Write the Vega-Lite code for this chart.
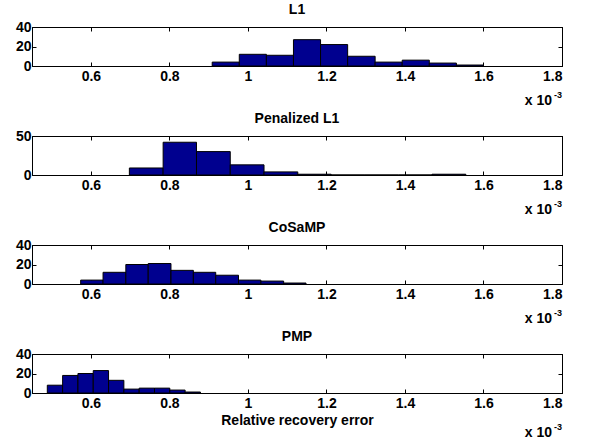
{
  "$schema": "https://vega.github.io/schema/vega-lite/v6.json",
  "background": "white",
  "padding": {"left": 14, "top": 2, "right": 5, "bottom": 2},
  "config": {
    "font": "Liberation Sans",
    "view": {"stroke": "black", "strokeWidth": 1},
    "axis": {
      "domainColor": "black", "domainWidth": 1, "tickColor": "black", "tickWidth": 1, "tickSize": -4,
      "labelFont": "Liberation Sans", "labelFontWeight": "bold", "labelFontSize": 14, "labelColor": "black",
      "labelPadding": 5, "grid": false,
      "titleFont": "Liberation Sans", "titleFontWeight": "bold", "titleFontSize": 14, "titleColor": "black"
    },
    "axisX": {"labelPadding": 7},
    "title": {"font": "Liberation Sans", "fontWeight": "bold", "fontSize": 14, "color": "black", "offset": 3}
  },
  "datasets": {
    "hist": [
      {"method": "L1", "x0": 0.909, "x1": 0.978, "count": 4},
      {"method": "L1", "x0": 0.978, "x1": 1.047, "count": 12},
      {"method": "L1", "x0": 1.047, "x1": 1.116, "count": 11},
      {"method": "L1", "x0": 1.116, "x1": 1.185, "count": 27},
      {"method": "L1", "x0": 1.185, "x1": 1.254, "count": 22},
      {"method": "L1", "x0": 1.254, "x1": 1.324, "count": 10},
      {"method": "L1", "x0": 1.324, "x1": 1.393, "count": 4},
      {"method": "L1", "x0": 1.393, "x1": 1.462, "count": 6},
      {"method": "L1", "x0": 1.462, "x1": 1.531, "count": 3},
      {"method": "L1", "x0": 1.531, "x1": 1.600, "count": 1},
      {"method": "Penalized L1", "x0": 0.698, "x1": 0.784, "count": 9},
      {"method": "Penalized L1", "x0": 0.784, "x1": 0.869, "count": 42},
      {"method": "Penalized L1", "x0": 0.869, "x1": 0.955, "count": 30},
      {"method": "Penalized L1", "x0": 0.955, "x1": 1.041, "count": 13},
      {"method": "Penalized L1", "x0": 1.041, "x1": 1.127, "count": 4},
      {"method": "Penalized L1", "x0": 1.127, "x1": 1.212, "count": 1},
      {"method": "Penalized L1", "x0": 1.212, "x1": 1.298, "count": 0},
      {"method": "Penalized L1", "x0": 1.298, "x1": 1.384, "count": 0},
      {"method": "Penalized L1", "x0": 1.384, "x1": 1.469, "count": 0},
      {"method": "Penalized L1", "x0": 1.469, "x1": 1.555, "count": 1},
      {"method": "CoSaMP", "x0": 0.574, "x1": 0.631, "count": 4},
      {"method": "CoSaMP", "x0": 0.631, "x1": 0.689, "count": 12},
      {"method": "CoSaMP", "x0": 0.689, "x1": 0.746, "count": 20},
      {"method": "CoSaMP", "x0": 0.746, "x1": 0.804, "count": 21},
      {"method": "CoSaMP", "x0": 0.804, "x1": 0.861, "count": 14},
      {"method": "CoSaMP", "x0": 0.861, "x1": 0.918, "count": 12},
      {"method": "CoSaMP", "x0": 0.918, "x1": 0.976, "count": 9},
      {"method": "CoSaMP", "x0": 0.976, "x1": 1.033, "count": 4},
      {"method": "CoSaMP", "x0": 1.033, "x1": 1.091, "count": 3},
      {"method": "CoSaMP", "x0": 1.091, "x1": 1.148, "count": 1},
      {"method": "PMP", "x0": 0.489, "x1": 0.528, "count": 8},
      {"method": "PMP", "x0": 0.528, "x1": 0.567, "count": 18},
      {"method": "PMP", "x0": 0.567, "x1": 0.606, "count": 20},
      {"method": "PMP", "x0": 0.606, "x1": 0.645, "count": 23},
      {"method": "PMP", "x0": 0.645, "x1": 0.684, "count": 13},
      {"method": "PMP", "x0": 0.684, "x1": 0.723, "count": 4},
      {"method": "PMP", "x0": 0.723, "x1": 0.762, "count": 5},
      {"method": "PMP", "x0": 0.762, "x1": 0.801, "count": 5},
      {"method": "PMP", "x0": 0.801, "x1": 0.840, "count": 3},
      {"method": "PMP", "x0": 0.840, "x1": 0.879, "count": 1}
    ],
    "note": [{"base": "x 10", "exp": "-3"}]
  },
  "bounds": "flush",
  "spacing": 70,
  "vconcat": [
    {
      "title": "L1", "width": 530, "height": 39,
      "layer": [
        {"data": {"name": "hist"}, "transform": [{"filter": "datum.method === 'L1'"}],
         "mark": {"type": "bar", "fill": "#00008F", "stroke": "black", "strokeWidth": 1},
         "encoding": {
           "x": {"field": "x0", "type": "quantitative", "scale": {"domain": [0.45, 1.8], "nice": false, "zero": false}, "axis": {"values": [0.6, 0.8, 1, 1.2, 1.4, 1.6, 1.8], "format": "~g", "title": null}},
           "x2": {"field": "x1"},
           "y": {"field": "count", "type": "quantitative", "scale": {"domain": [0, 40], "nice": false}, "axis": {"values": [0, 20, 40], "title": null}},
           "y2": {"datum": 0}
         }},
        {"data": {"name": "hist"}, "transform": [{"filter": "datum.method === 'L1'"}],
         "mark": {"type": "bar", "opacity": 0},
         "encoding": {
           "x": {"field": "x0", "type": "quantitative", "axis": {"orient": "top", "values": [0.6, 0.8, 1, 1.2, 1.4, 1.6, 1.8], "labels": false, "title": null}},
           "x2": {"field": "x1"},
           "y": {"field": "count", "type": "quantitative", "axis": {"orient": "right", "values": [0, 20, 40], "labels": false, "title": null}},
           "y2": {"datum": 0}
         }},
        {"data": {"name": "note"}, "mark": {"type": "text", "align": "right", "baseline": "alphabetic", "fontWeight": "bold", "fontSize": 14, "dx": -10, "dy": 39},
         "encoding": {"x": {"datum": 1.8, "type": "quantitative", "axis": null}, "y": {"datum": 0, "type": "quantitative", "axis": null}, "text": {"field": "base"}}},
        {"data": {"name": "note"}, "mark": {"type": "text", "align": "right", "baseline": "alphabetic", "fontWeight": "bold", "fontSize": 9, "dx": 0, "dy": 32},
         "encoding": {"x": {"datum": 1.8, "type": "quantitative", "axis": null}, "y": {"datum": 0, "type": "quantitative", "axis": null}, "text": {"field": "exp"}}}
      ],
      "resolve": {"axis": {"x": "independent", "y": "independent"}}
    },
    {
      "title": "Penalized L1", "width": 530, "height": 39,
      "layer": [
        {"data": {"name": "hist"}, "transform": [{"filter": "datum.method === 'Penalized L1'"}],
         "mark": {"type": "bar", "fill": "#00008F", "stroke": "black", "strokeWidth": 1},
         "encoding": {
           "x": {"field": "x0", "type": "quantitative", "scale": {"domain": [0.45, 1.8], "nice": false, "zero": false}, "axis": {"values": [0.6, 0.8, 1, 1.2, 1.4, 1.6, 1.8], "format": "~g", "title": null}},
           "x2": {"field": "x1"},
           "y": {"field": "count", "type": "quantitative", "scale": {"domain": [0, 50], "nice": false}, "axis": {"values": [0, 50], "title": null}},
           "y2": {"datum": 0}
         }},
        {"data": {"name": "hist"}, "transform": [{"filter": "datum.method === 'Penalized L1'"}],
         "mark": {"type": "bar", "opacity": 0},
         "encoding": {
           "x": {"field": "x0", "type": "quantitative", "axis": {"orient": "top", "values": [0.6, 0.8, 1, 1.2, 1.4, 1.6, 1.8], "labels": false, "title": null}},
           "x2": {"field": "x1"},
           "y": {"field": "count", "type": "quantitative", "axis": {"orient": "right", "values": [0, 50], "labels": false, "title": null}},
           "y2": {"datum": 0}
         }},
        {"data": {"name": "note"}, "mark": {"type": "text", "align": "right", "baseline": "alphabetic", "fontWeight": "bold", "fontSize": 14, "dx": -10, "dy": 39},
         "encoding": {"x": {"datum": 1.8, "type": "quantitative", "axis": null}, "y": {"datum": 0, "type": "quantitative", "axis": null}, "text": {"field": "base"}}},
        {"data": {"name": "note"}, "mark": {"type": "text", "align": "right", "baseline": "alphabetic", "fontWeight": "bold", "fontSize": 9, "dx": 0, "dy": 32},
         "encoding": {"x": {"datum": 1.8, "type": "quantitative", "axis": null}, "y": {"datum": 0, "type": "quantitative", "axis": null}, "text": {"field": "exp"}}}
      ],
      "resolve": {"axis": {"x": "independent", "y": "independent"}}
    },
    {
      "title": "CoSaMP", "width": 530, "height": 39,
      "layer": [
        {"data": {"name": "hist"}, "transform": [{"filter": "datum.method === 'CoSaMP'"}],
         "mark": {"type": "bar", "fill": "#00008F", "stroke": "black", "strokeWidth": 1},
         "encoding": {
           "x": {"field": "x0", "type": "quantitative", "scale": {"domain": [0.45, 1.8], "nice": false, "zero": false}, "axis": {"values": [0.6, 0.8, 1, 1.2, 1.4, 1.6, 1.8], "format": "~g", "title": null}},
           "x2": {"field": "x1"},
           "y": {"field": "count", "type": "quantitative", "scale": {"domain": [0, 40], "nice": false}, "axis": {"values": [0, 20, 40], "title": null}},
           "y2": {"datum": 0}
         }},
        {"data": {"name": "hist"}, "transform": [{"filter": "datum.method === 'CoSaMP'"}],
         "mark": {"type": "bar", "opacity": 0},
         "encoding": {
           "x": {"field": "x0", "type": "quantitative", "axis": {"orient": "top", "values": [0.6, 0.8, 1, 1.2, 1.4, 1.6, 1.8], "labels": false, "title": null}},
           "x2": {"field": "x1"},
           "y": {"field": "count", "type": "quantitative", "axis": {"orient": "right", "values": [0, 20, 40], "labels": false, "title": null}},
           "y2": {"datum": 0}
         }},
        {"data": {"name": "note"}, "mark": {"type": "text", "align": "right", "baseline": "alphabetic", "fontWeight": "bold", "fontSize": 14, "dx": -10, "dy": 39},
         "encoding": {"x": {"datum": 1.8, "type": "quantitative", "axis": null}, "y": {"datum": 0, "type": "quantitative", "axis": null}, "text": {"field": "base"}}},
        {"data": {"name": "note"}, "mark": {"type": "text", "align": "right", "baseline": "alphabetic", "fontWeight": "bold", "fontSize": 9, "dx": 0, "dy": 32},
         "encoding": {"x": {"datum": 1.8, "type": "quantitative", "axis": null}, "y": {"datum": 0, "type": "quantitative", "axis": null}, "text": {"field": "exp"}}}
      ],
      "resolve": {"axis": {"x": "independent", "y": "independent"}}
    },
    {
      "title": "PMP", "width": 530, "height": 39,
      "layer": [
        {"data": {"name": "hist"}, "transform": [{"filter": "datum.method === 'PMP'"}],
         "mark": {"type": "bar", "fill": "#00008F", "stroke": "black", "strokeWidth": 1},
         "encoding": {
           "x": {"field": "x0", "type": "quantitative", "scale": {"domain": [0.45, 1.8], "nice": false, "zero": false}, "axis": {"values": [0.6, 0.8, 1, 1.2, 1.4, 1.6, 1.8], "format": "~g", "title": "Relative recovery error", "titlePadding": 3}},
           "x2": {"field": "x1"},
           "y": {"field": "count", "type": "quantitative", "scale": {"domain": [0, 40], "nice": false}, "axis": {"values": [0, 20, 40], "title": null}},
           "y2": {"datum": 0}
         }},
        {"data": {"name": "hist"}, "transform": [{"filter": "datum.method === 'PMP'"}],
         "mark": {"type": "bar", "opacity": 0},
         "encoding": {
           "x": {"field": "x0", "type": "quantitative", "axis": {"orient": "top", "values": [0.6, 0.8, 1, 1.2, 1.4, 1.6, 1.8], "labels": false, "title": null}},
           "x2": {"field": "x1"},
           "y": {"field": "count", "type": "quantitative", "axis": {"orient": "right", "values": [0, 20, 40], "labels": false, "title": null}},
           "y2": {"datum": 0}
         }},
        {"data": {"name": "note"}, "mark": {"type": "text", "align": "right", "baseline": "alphabetic", "fontWeight": "bold", "fontSize": 14, "dx": -10, "dy": 44},
         "encoding": {"x": {"datum": 1.8, "type": "quantitative", "axis": null}, "y": {"datum": 0, "type": "quantitative", "axis": null}, "text": {"field": "base"}}},
        {"data": {"name": "note"}, "mark": {"type": "text", "align": "right", "baseline": "alphabetic", "fontWeight": "bold", "fontSize": 9, "dx": 0, "dy": 37},
         "encoding": {"x": {"datum": 1.8, "type": "quantitative", "axis": null}, "y": {"datum": 0, "type": "quantitative", "axis": null}, "text": {"field": "exp"}}}
      ],
      "resolve": {"axis": {"x": "independent", "y": "independent"}}
    }
  ]
}
